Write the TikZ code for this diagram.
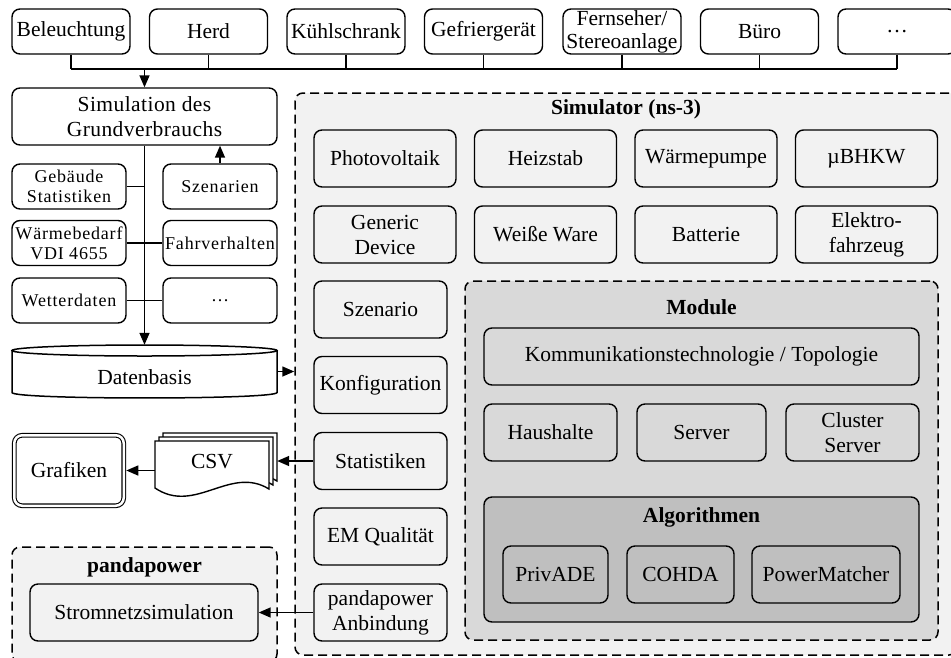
\documentclass[tikz,border=0pt]{standalone}
\usepackage{fontspec}
\setmainfont{Liberation Serif}
\usetikzlibrary{arrows.meta}
\definecolor{bgA}{HTML}{F2F2F2}
\definecolor{bgB}{HTML}{D9D9D9}
\definecolor{bgC}{HTML}{BFBFBF}
\newcommand\mainsz{\fontsize{21.5}{25}\selectfont}
\newcommand\smallsz{\fontsize{18}{20}\selectfont\addfontfeatures{LetterSpace=4.5}}
\begin{document}
\begin{tikzpicture}[x=1pt,y=-1pt,
  box/.style={draw, line width=1.4pt, rounded corners=8pt, inner sep=0pt, align=center, font=\mainsz},
  topbox/.style={box, minimum width=118, minimum height=45},
  smallbox/.style={box, font=\smallsz, minimum width=114, minimum height=45},
  simbox/.style={box, fill=bgA, minimum width=142, minimum height=57},
  colbox/.style={box, fill=bgA, minimum width=133, minimum height=57},
  modbox/.style={box, fill=bgB, minimum height=57},
  algbox/.style={box, fill=bgC, minimum height=57},
  conn/.style={line width=1.5pt},
  arr/.style={conn, -{Triangle[length=12pt,width=10pt]}},
  dashedbox/.style={draw, line width=1.5pt, dash pattern=on 9pt off 5pt, rounded corners=8pt, inner sep=0pt},
  title/.style={font=\mainsz\bfseries, inner sep=0pt}
]
\clip (0,0) rectangle (951,657);
\fill[white] (0,0) rectangle (951,657);

% containers
\node[dashedbox, fill=bgA, minimum width=662, minimum height=562] (simbg) at (626,374) {};
\node[title] (simtitle) at (626,109) {Simulator (ns-3)};
\node[dashedbox, fill=bgB, minimum width=473, minimum height=359] (modbg) at (701.5,460.5) {};
\node[title] (modtitle) at (701.5,307) {Module};
\node[box, fill=bgC, minimum width=435, minimum height=125] (algbg) at (701.5,559.5) {};
\node[title] (algtitle) at (701.5,517) {Algorithmen};
\node[dashedbox, fill=bgA, minimum width=265, minimum height=115] (ppbg) at (144.5,604.5) {};
\node[title] (pptitle) at (144.5,567) {pandapower};

% top row
\node[topbox] (bel) at (71,31.5) {Beleuchtung};
\node[topbox] (herd) at (208.5,31.5) {Herd};
\node[topbox] (kuehl) at (346,31.5) {Kühlschrank};
\node[topbox] (gefr) at (483.5,31.5) {Gefriergerät};
\node[topbox, font={\fontsize{21.5}{23}\selectfont}] (fern) at (622,31.5) {Fernseher/\\Stereoanlage};
\node[topbox] (buero) at (759.5,31.5) {Büro};
\node[topbox] (dotsa) at (897,31.5) {…};

\coordinate (bus) at (0,69);
\draw[conn] (bel.south |- bus) -- (dotsa.south |- bus);
\foreach \n in {bel,herd,kuehl,gefr,fern,buero,dotsa}{
  \draw[conn] (\n.south) -- (\n.south |- bus);
}

% left part
\node[box, minimum width=265, minimum height=57, font=\mainsz\addfontfeatures{LetterSpace=2}] (sim) at (144.5,116.5) {Simulation des\\Grundverbrauchs};
\draw[arr] (sim.north |- bus) -- (sim.north);

\node[smallbox] (geb) at (69,186.5) {Gebäude\\Statistiken};
\node[smallbox] (szen) at (220,186.5) {Szenarien};
\node[smallbox] (waerme) at (69,243) {Wärmebedarf\\VDI 4655};
\node[smallbox] (fahr) at (220,243) {Fahrverhalten};
\node[smallbox] (wetter) at (69,300.5) {Wetterdaten};
\node[smallbox] (dotsb) at (220,300.5) {…};

\node[minimum width=265, minimum height=53, inner sep=0pt] (db) at (144.5,371.5) {};
\draw[conn, fill=white] (12,350.5) -- (12,392.5) .. controls (12,399.8) and (277,399.8) .. (277,392.5) -- (277,350.5);
\draw[conn] (144.5,350.5) ellipse [x radius=132.5, y radius=5.5];
\node[font=\mainsz, inner sep=0pt] (dbl) at (144.5,377) {Datenbasis};

\draw[arr] (sim.south) -- (db.north);
\draw[conn] (geb.east) -- (geb.east -| sim.south);
\draw[conn] (waerme.east) -- (fahr.west);
\draw[conn] (wetter.east) -- (dotsb.west);
\draw[arr] (szen.north) -- (szen.north |- sim.south);
\draw[arr] (db.east) -- (db.east -| simbg.west);

% Grafiken and CSV
\node[box, double, double distance=2.5pt, line width=1.1pt, minimum width=109.5, minimum height=70.5] (graf) at (69,470.5) {Grafiken};
\foreach \k in {2,1,0}{
  \draw[line width=1.4pt, fill=white, shift={(4*\k,-4*\k)}] (155,441) -- (269,441) -- (269,489) .. controls (230,465) and (195,515) .. (155,488) -- cycle;
}
\node[minimum width=122, minimum height=65, inner sep=0pt] (csv) at (216,465.5) {};
\node[font=\mainsz, inner sep=0pt] (csvl) at (212,462) {CSV};

% simulator contents
\node[simbox] (pv) at (385,158.5) {Photovoltaik};
\node[simbox] (heiz) at (545.5,158.5) {Heizstab};
\node[simbox] (wp) at (706,158.5) {Wärmepumpe};
\node[simbox] (bhkw) at (866.5,158.5) {µBHKW};
\node[simbox] (gen) at (385,234.5) {Generic\\Device};
\node[simbox] (weiss) at (545.5,234.5) {Weiße Ware};
\node[simbox] (batt) at (706,234.5) {Batterie};
\node[simbox] (ev) at (866.5,234.5) {Elektro-\\fahrzeug};

\node[colbox] (szenario) at (380.5,309.5) {Szenario};
\node[colbox] (konf) at (380.5,385) {Konfiguration};
\node[colbox] (stat) at (380.5,461) {Statistiken};
\node[colbox] (emq) at (380.5,536.5) {EM Qualität};
\node[colbox] (pa) at (380.5,612.5) {pandapower\\Anbindung};

\node[modbox, minimum width=435] (komm) at (701.5,356.5) {Kommunikationstechnologie / Topologie};
\node[modbox, minimum width=133] (haus) at (550.5,432.5) {Haushalte};
\node[modbox, minimum width=129] (serv) at (701.5,432.5) {Server};
\node[modbox, minimum width=133] (clus) at (852.5,432.5) {Cluster\\Server};

\node[algbox, minimum width=105] (priv) at (555.5,574.5) {PrivADE};
\node[algbox, minimum width=107] (cohda) at (680.5,574.5) {COHDA};
\node[algbox, minimum width=148] (pm) at (826,574.5) {PowerMatcher};

% pandapower
\node[box, fill=bgA, minimum width=228, minimum height=57] (strom) at (144,612.5) {Stromnetzsimulation};

\draw[arr] (stat.west) -- (stat.west -| csv.east);
\draw[arr, shorten >=2pt] (graf.east -| csv.west) -- (graf.east);
\draw[arr] (pa.west) -- (strom.east);
\end{tikzpicture}
\end{document}
